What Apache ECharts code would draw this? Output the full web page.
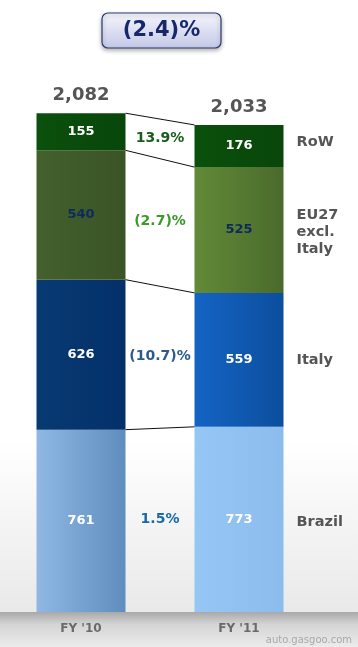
<!DOCTYPE html>
<html><head><meta charset="utf-8">
<script src="https://cdn.jsdelivr.net/npm/echarts@6/dist/echarts.min.js"></script>
<style>html,body{margin:0;padding:0;background:#fff}#c{width:358px;height:647px}</style>
</head><body><div id="c"></div>
<script>
const categories = ["FY '10", "FY '11"];
const regionNames = ['Brazil', 'Italy', 'EU27\nexcl.\nItaly', 'RoW'];
const brazil = [761, 773];
const italy = [626, 559];
const eu27 = [540, 525];
const row = [155, 176];
const totals = ['2,082', '2,033'];
const changes = ['1.5%', '(10.7)%', '(2.7)%', '13.9%'];
const totalChange = '(2.4)%';

const FONT = 'DejaVu Sans';
const BW = 89;
const seriesVals = [brazil, italy, eu27, row];
const cum = [[0, 0]];
seriesVals.forEach((s, k) => cum.push([cum[k][0] + s[0], cum[k][1] + s[1]]));

function lg(a, b, dir) {
  return dir === 'h'
    ? {type:'linear', x:0, y:0, x2:1, y2:0, colorStops:[{offset:0,color:a},{offset:1,color:b}]}
    : {type:'linear', x:0, y:0, x2:0, y2:1, colorStops:[{offset:0,color:a},{offset:1,color:b}]};
}
const colors = [
  [lg('#8fb8e4', '#5f8dbd', 'h'), lg('#96c6f4', '#8cbcec', 'h')],
  [lg('#083a72', '#04306a', 'h'), lg('#1464c4', '#0c4e9e', 'h')],
  [lg('#43602d', '#3b5426', 'h'), lg('#628a38', '#4a6a2c', 'h')],
  [lg('#0b500c', '#08460a', 'h'), lg('#0b500c', '#08460a', 'h')]
];
const labelColors = ['#ffffff', '#ffffff', '#0c2a5c', '#ffffff'];
const changeColors = ['#1a6aaa', '#2a5a90', '#3a9a2a', '#1a5c1a'];

const barSeries = seriesVals.map((vals, k) => ({
  type: 'bar', stack: 't', barWidth: BW, z: 3,
  data: vals.map((v, i) => ({value: v, itemStyle: {color: colors[k][i]}})),
  label: {show: true, position: 'inside', color: labelColors[k], fontFamily: FONT, fontWeight: 'bold', fontSize: 13}
}));

const annot = {
  type: 'custom', z: 5, silent: true,
  data: [0, 1, 2, 3],
  renderItem: function (params, api) {
    const k = params.dataIndex;
    const children = [];
    const pL = api.coord([0, cum[k + 1][0]]);
    const pR = api.coord([1, cum[k + 1][1]]);
    children.push({type: 'line', shape: {x1: pL[0] + BW / 2, y1: pL[1], x2: pR[0] - BW / 2, y2: pR[1]}, style: {stroke: '#111', lineWidth: 1}});
    const mL = api.coord([0, (cum[k][0] + cum[k + 1][0]) / 2]);
    const mR = api.coord([1, (cum[k][1] + cum[k + 1][1]) / 2]);
    children.push({type: 'text', style: {text: changes[k], x: (mL[0] + mR[0]) / 2, y: (mL[1] + mR[1]) / 2 - 1, align: 'center', verticalAlign: 'middle', fill: changeColors[k], font: 'bold 14px ' + FONT}});
    const ry = mR[1] + (k === 3 ? -4 : k === 2 ? 2 : k === 0 ? 3 : 0);
    children.push({type: 'text', style: {text: regionNames[k], x: mR[0] + BW / 2 + 13, y: ry, align: 'left', verticalAlign: 'middle', fill: '#555555', font: 'bold 14.5px ' + FONT, lineHeight: 17}});
    if (k === 3) {
      const tL = api.coord([0, cum[4][0]]);
      const tR = api.coord([1, cum[4][1]]);
      children.push({type: 'text', style: {text: totals[0], x: tL[0], y: tL[1] - 18, align: 'center', verticalAlign: 'middle', fill: '#555555', font: 'bold 18px ' + FONT}});
      children.push({type: 'text', style: {text: totals[1], x: tR[0], y: tR[1] - 18, align: 'center', verticalAlign: 'middle', fill: '#555555', font: 'bold 18px ' + FONT}});
    }
    return {type: 'group', children: children};
  }
};

const chart = echarts.init(document.getElementById('c'));
chart.setOption({
  animation: false,
  grid: {left: 2, width: 316, bottom: 35, top: 37},
  xAxis: {type: 'category', data: categories, axisLine: {show: false}, axisTick: {show: false},
    axisLabel: {margin: 11, color: '#6a6a6a', fontFamily: FONT, fontWeight: 'bold', fontSize: 12}},
  yAxis: {type: 'value', min: 0, max: 2400, show: false, splitLine: {show: false}},
  graphic: [
    {type: 'rect', z: -10, shape: {x: 0, y: 0, width: 358, height: 612},
      style: {fill: {type:'linear', x:0, y:0, x2:0, y2:1, colorStops:[{offset:0,color:'#ffffff'},{offset:0.72,color:'#ffffff'},{offset:1,color:'#e9e9e9'}]}}},
    {type: 'rect', z: -10, shape: {x: 0, y: 612, width: 358, height: 35},
      style: {fill: {type:'linear', x:0, y:0, x2:0, y2:1, colorStops:[{offset:0,color:'#a9a9a9'},{offset:0.35,color:'#d4d4d4'},{offset:1,color:'#ececec'}]}}},
    {type: 'rect', z: 10, shape: {x: 102, y: 13, width: 119, height: 35, r: 6},
      style: {fill: {type:'linear', x:0, y:0, x2:0, y2:1, colorStops:[{offset:0,color:'#f6f6fd'},{offset:1,color:'#c3c8e6'}]},
        stroke: '#2c3a6c', lineWidth: 1.2, shadowBlur: 4, shadowColor: 'rgba(0,0,0,0.3)', shadowOffsetY: 2}},
    {type: 'text', z: 11, style: {text: totalChange, x: 161.5, y: 31, align: 'center', verticalAlign: 'middle', fill: '#17286a', font: 'bold 21px ' + FONT}},
    {type: 'text', z: 11, style: {text: 'auto.gasgoo.com', x: 352, y: 640, align: 'right', verticalAlign: 'middle', fill: '#a8a8a8', font: '10px ' + FONT}}
  ],
  series: barSeries.concat([annot])
});
</script></body></html>
